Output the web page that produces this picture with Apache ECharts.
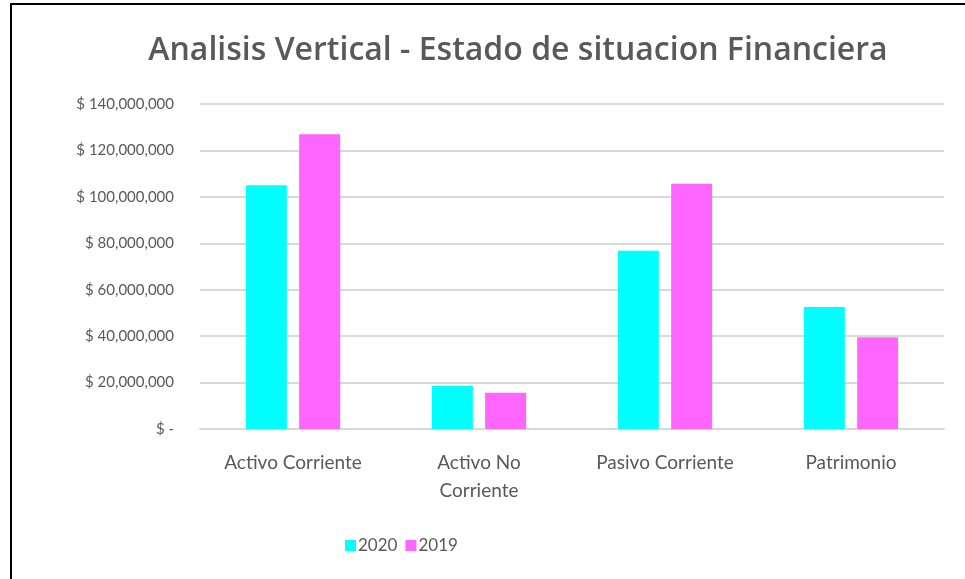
<!DOCTYPE html>
<html>
<head>
<meta charset="utf-8">
<script src="https://cdn.jsdelivr.net/npm/echarts@6/dist/echarts.min.js"></script>
<style>
  html, body { margin: 0; padding: 0; background: #fff; }
  #chart { width: 965px; height: 579px; }
</style>
</head>
<body>
<div id="chart"></div>
<script>
    var categories = ['Activo Corriente', 'Activo No\nCorriente', 'Pasivo Corriente', 'Patrimonio'];
    var values2020 = [105000000, 18500000, 76800000, 52600000];
    var values2019 = [127000000, 15600000, 105600000, 39500000];
    var yTicks = { min: 0, max: 140000000, interval: 20000000 };

    var chart = echarts.init(document.getElementById('chart'));

    var option = {
        textStyle: { fontFamily: 'Lato' },
        title: {
            text: 'Analisis Vertical - Estado de situacion Financiera',
            left: 513,
            top: 30,
            textAlign: 'center',
            textStyle: {
                fontFamily: 'Open Sans',
                fontSize: 32,
                fontWeight: 600,
                color: '#595959'
            }
        },
        graphic: [
            {
                type: 'rect',
                shape: { x: 11, y: 4, width: 1000, height: 700 },
                style: { fill: 'none', stroke: '#000', lineWidth: 2 },
                silent: true
            }
        ],
        legend: {
            left: 340,
            top: 532,
            itemWidth: 11,
            itemHeight: 11,
            itemGap: 8,
            icon: 'rect',
            textStyle: { fontSize: 17, color: '#595959', padding: [0, 0, 0, -3] },
            data: ['2020', '2019']
        },
        grid: {
            left: 200,
            right: 21,
            top: 104,
            bottom: 150
        },
        xAxis: {
            type: 'category',
            data: categories,
            axisLine: { lineStyle: { color: '#d9d9d9', width: 2 } },
            axisTick: { show: false },
            axisLabel: {
                interval: 0,
                fontSize: 19,
                color: '#595959',
                margin: 20,
                lineHeight: 28
            }
        },
        yAxis: {
            type: 'value',
            min: yTicks.min,
            max: yTicks.max,
            interval: yTicks.interval,
            axisLine: { show: false },
            axisTick: { show: false },
            splitLine: { lineStyle: { color: '#d9d9d9', width: 2 } },
            axisLabel: {
                fontSize: 15,
                color: '#595959',
                margin: 26,
                formatter: function (v) {
                    return v === 0 ? '$ -' : '$ ' + v.toLocaleString('en-US');
                }
            }
        },
        series: [
            {
                name: '2020',
                type: 'bar',
                data: values2020,
                barWidth: 41,
                barGap: '30%',
                itemStyle: { color: '#00ffff' }
            },
            {
                name: '2019',
                type: 'bar',
                data: values2019,
                barWidth: 41,
                itemStyle: { color: '#ff66ff' }
            }
        ]
    };

    chart.setOption(option);
</script>
</body>
</html>
